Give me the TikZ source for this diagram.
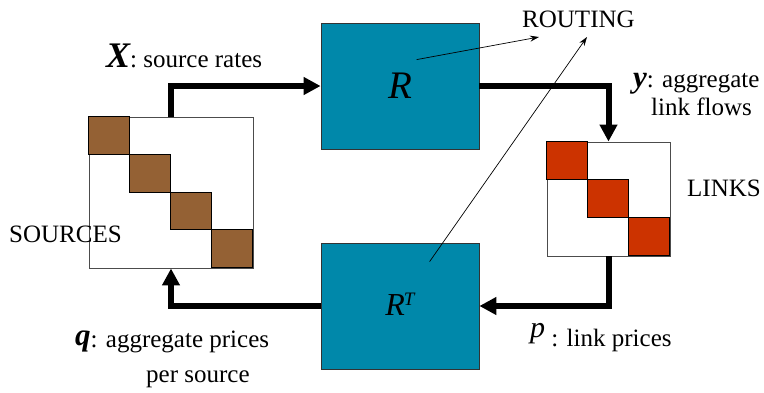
\documentclass[tikz,border=0pt]{standalone}
\usepackage{fontspec}
\setmainfont{Liberation Serif}
\usetikzlibrary{arrows.meta,calc}
\definecolor{boxteal}{RGB}{0,136,170}
\definecolor{srcbrown}{RGB}{148,97,52}
\definecolor{linkred}{RGB}{204,51,0}
\tikzset{
  routebox/.style={draw=black!80,line width=0.8pt,fill=boxteal,minimum width=158pt,minimum height=126pt,inner sep=0pt},
  matframe/.style={draw=black!70,line width=0.9pt,fill=white,inner sep=0pt},
  srcblock/.style={draw=black,line width=1pt,fill=srcbrown,minimum width=41pt,minimum height=37.75pt,inner sep=0pt},
  linkblock/.style={draw=black,line width=1pt,fill=linkred,minimum width=41pt,minimum height=38pt,inner sep=0pt},
  flow/.style={line width=6pt,-{Triangle[length=17pt,width=17pt]}},
  pointer/.style={line width=0.7pt,-{Stealth[length=9pt,width=6pt]}},
  lbl/.style={anchor=base west,inner sep=0pt,font=\fontsize{25}{27}\selectfont}
}
\begin{document}
\begin{tikzpicture}[x=1pt,y=-1pt]
\useasboundingbox (0,0) rectangle (764,392);
% routing boxes
\node[routebox] (R) at (400,86) {\fontsize{39}{40}\selectfont\itshape R};
\node[routebox] (RT) at (400,306) {\raisebox{4pt}{\fontsize{32}{34}\selectfont\itshape R\kern-1pt\raisebox{10pt}{\fontsize{19}{20}\selectfont T}}};
% sources matrix
\node[matframe,minimum width=164pt,minimum height=151pt] (src) at (171,192.5) {};
\foreach \i in {1,...,4}
  \node[srcblock] (s\i) at ($(src.north west)+({41*(\i-0.5)},{37.75*(\i-0.5)})$) {};
% links matrix
\node[matframe,minimum width=123pt,minimum height=114pt] (links) at (608.5,199) {};
\foreach \i in {1,...,3}
  \node[linkblock] (l\i) at ($(links.north west)+({41*(\i-0.5)},{38*(\i-0.5)})$) {};
% flows
\draw[flow] (src.north) |- (R.west);
\draw[flow] (R.east) -| (links.north);
\draw[flow] (links.south) |- (RT.east);
\draw[flow] (RT.west) -| (src.south);
% labels
\node[lbl] (xl) at (106,67) {{\fontsize{36}{36}\selectfont\bfseries\itshape X}: source rates};
\node[lbl] (rout) at (522,27) {\fontsize{25}{26}\selectfont ROUTING};
\node[lbl] (yl) at (633,87) {{\fontsize{31}{31}\selectfont\bfseries\itshape y}: aggregate};
\node[lbl] (yl2) at (651,115) {link flows};
\node[lbl] (linksl) at (687,196) {LINKS};
\node[lbl] (srcl) at (9,242) {SOURCES};
\node[lbl] (ql) at (75,347) {\raisebox{2pt}{\fontsize{31}{31}\selectfont\bfseries\itshape q}: aggregate prices};
\node[lbl] (ql2) at (146,382) {per source};
\node[lbl] (pl) at (530,346) {\raisebox{9pt}{\fontsize{30}{30}\selectfont\itshape p} : link prices};
% pointers to ROUTING
\coordinate (a1) at ($(R.north west)+(96,37)$);
\coordinate (a2) at ($(RT.north west)+(109,19)$);
\coordinate (t1) at ($(rout.base west)+(17,10)$);
\coordinate (t2) at ($(rout.base west)+(65,10)$);
\draw[pointer] (a1) -- (t1);
\draw[pointer] (a2) -- (t2);
\end{tikzpicture}
\end{document}
